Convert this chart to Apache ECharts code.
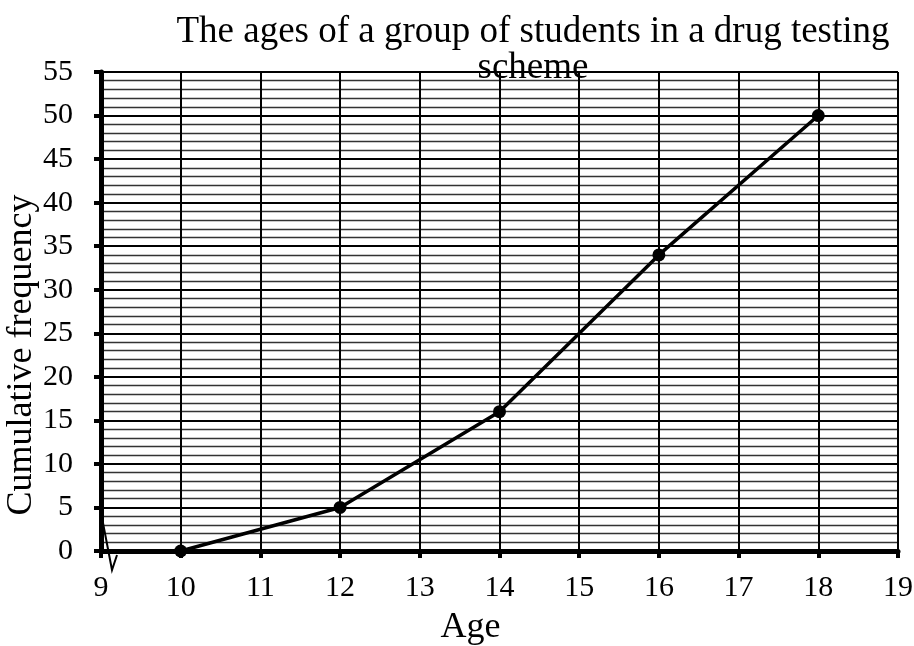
<!DOCTYPE html>
<html><head><meta charset="utf-8">
<script src="https://cdn.jsdelivr.net/npm/echarts@6/dist/echarts.min.js"></script>
<style>html,body{margin:0;padding:0;background:#fff}#c{width:914px;height:646px}</style>
</head><body><div id="c"></div>
<script>
const titleText = "The ages of a group of students in a drug testing\nscheme";
const xName = "Age";
const yName = "Cumulative frequency";
const ages = [10, 12, 14, 16, 18];
const cumFreq = [0, 5, 16, 34, 50];
const xMin = 9, xMax = 19, yMin = 0, yMax = 55;

const FONT = '"Liberation Serif", "Times New Roman", serif';
const chart = echarts.init(document.getElementById('c'), null, {renderer: 'canvas'});
const option = {
  backgroundColor: '#fff',
  animation: false,
  title: {
    text: titleText,
    left: 528, top: 9, textAlign: 'center',
    textStyle: {fontFamily: FONT, fontSize: 37, fontWeight: 'normal', color: '#000', lineHeight: 36}
  },
  grid: {left: 101, right: 16, top: 72, bottom: 95, containLabel: false, outerBoundsMode: 'none'},
  xAxis: {
    type: 'value', min: xMin, max: xMax, interval: 1,
    name: xName, nameLocation: 'middle', nameGap: 59,
    nameTextStyle: {fontFamily: FONT, fontSize: 36, color: '#000', padding: [0, 58, 0, 0]},
    axisLine: {show: true, onZero: false, lineStyle: {color: '#000', width: 5}},
    axisTick: {show: true, length: 7, lineStyle: {color: '#000', width: 4}},
    axisLabel: {fontFamily: FONT, fontSize: 30, color: '#000', margin: 22},
    splitLine: {show: true, lineStyle: {color: '#000', width: 2}}
  },
  yAxis: {
    type: 'value', min: yMin, max: yMax, interval: 5,
    axisLine: {show: true, onZero: false, lineStyle: {color: '#000', width: 5}},
    axisTick: {show: true, length: 7, lineStyle: {color: '#000', width: 4}},
    minorTick: {show: true, splitNumber: 5, length: 0, lineStyle: {width: 0}},
    minorSplitLine: {show: true, lineStyle: {color: '#333', width: 1.3}},
    axisLabel: {fontFamily: FONT, fontSize: 30, color: '#000', margin: 28},
    splitLine: {show: true, lineStyle: {color: '#000', width: 2.2}}
  },
  series: [{
    type: 'line',
    data: ages.map((a, i) => [a, cumFreq[i]]),
    symbol: 'circle', symbolSize: 13,
    itemStyle: {color: '#000'},
    lineStyle: {color: '#000', width: 3.5},
    z: 5
  }]
};
chart.setOption(option);

// axis break zigzag near origin and rotated y-axis name
const o = chart.convertToPixel({gridIndex: 0}, [xMin, yMin]);
chart.setOption({
  graphic: [
    {
      type: 'polyline', z: 10,
      shape: {points: [[o[0] + 2, o[1] - 28], [o[0] + 11, o[1] + 19], [o[0] + 16, o[1] + 4]]},
      style: {stroke: '#000', lineWidth: 2, fill: null}
    },
    {
      type: 'text', z: 10,
      x: 22, y: 355, rotation: Math.PI / 2,
      style: {text: yName, font: '36px ' + FONT, fill: '#000', textAlign: 'center', textVerticalAlign: 'middle'}
    }
  ]
});
</script></body></html>
